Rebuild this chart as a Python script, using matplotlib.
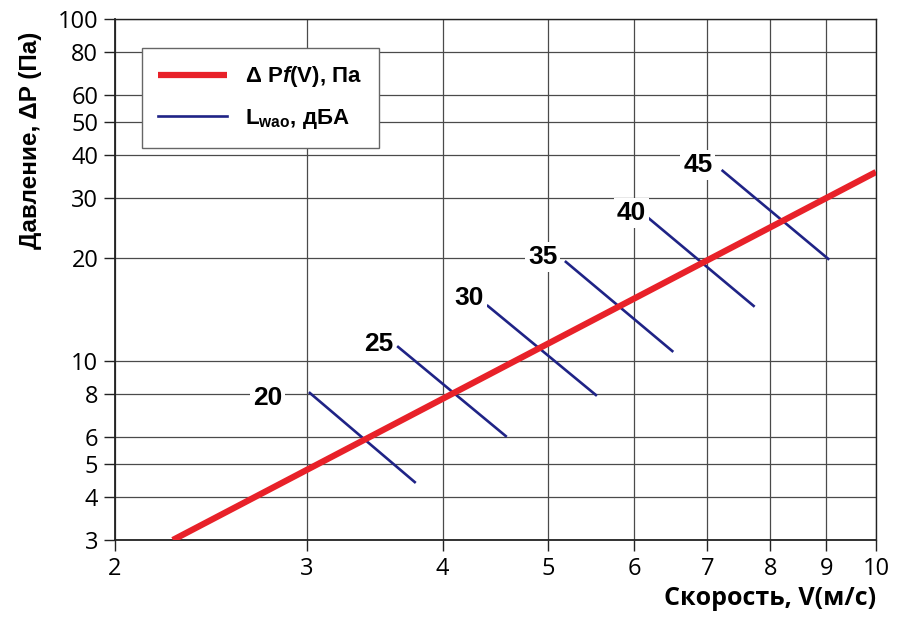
import numpy as np
import matplotlib
matplotlib.use("Agg")
import matplotlib.pyplot as plt
from matplotlib.ticker import FixedLocator, FixedFormatter, NullLocator

# pressure drop curve dP = f(V)
v_dp = [2.26, 10.0]
dp = [3.0, 35.7]

# noise level lines L_wao (start/end points)
noise_levels = [20, 25, 30, 35, 40, 45]
noise_v_start = [3.02, 3.64, 4.40, 5.19, 6.18, 7.23]
noise_p_start = [8.07, 11.0, 14.5, 19.5, 26.2, 36.0]
noise_v_end = [3.77, 4.57, 5.53, 6.50, 7.72, 9.04]
noise_p_end = [4.43, 6.04, 7.96, 10.7, 14.5, 19.9]
label_v = [2.76, 3.49, 4.23, 4.94, 5.96, 6.86]
label_p = [7.8, 11.2, 15.3, 20.2, 27.1, 37.5]

x_ticks = [2, 3, 4, 5, 6, 7, 8, 9, 10]
y_ticks = [3, 4, 5, 6, 8, 10, 20, 30, 40, 50, 60, 80, 100]

plt.rcParams["mathtext.fontset"] = "custom"
plt.rcParams["mathtext.rm"] = "Liberation Sans:bold"
plt.rcParams["mathtext.it"] = "Liberation Sans:italic:bold"

red = "#e82129"
blue = "#1f2386"
grid_c = "#4a4a4a"

fig = plt.figure(figsize=(9, 6.25), dpi=100)
ax = fig.add_axes([0.1278, 0.136, 0.8455, 0.8336])
ax.set_xscale("log")
ax.set_yscale("log")
ax.set_xlim(2, 10)
ax.set_ylim(3, 100)

ax.xaxis.set_major_locator(FixedLocator(x_ticks))
ax.xaxis.set_major_formatter(FixedFormatter([str(t) for t in x_ticks]))
ax.xaxis.set_minor_locator(NullLocator())
ax.yaxis.set_major_locator(FixedLocator(y_ticks))
ax.yaxis.set_major_formatter(FixedFormatter([str(t) for t in y_ticks]))
ax.yaxis.set_minor_locator(NullLocator())

ax.grid(True, color=grid_c, linewidth=0.9)
ax.set_axisbelow(True)
for s in ax.spines.values():
    s.set_color("#222222")
    s.set_linewidth(1.0)
ax.spines["left"].set_linewidth(1.3)
ax.spines["bottom"].set_linewidth(1.3)

ax.tick_params(axis="both", direction="out", length=8, width=1, color="#222222",
               labelsize=17, pad=4)
for lbl in ax.get_xticklabels() + ax.get_yticklabels():
    lbl.set_fontfamily("Open Sans")

ax.plot(v_dp, dp, color=red, linewidth=4.5, solid_capstyle="butt",
        label=r"$\Delta$ P$\mathit{f}$(V), Па", zorder=4)

for i in range(len(noise_levels)):
    ax.plot([noise_v_start[i], noise_v_end[i]], [noise_p_start[i], noise_p_end[i]],
            color=blue, linewidth=1.9, zorder=3,
            label=r"L$_{\mathregular{wao}}$, дБА" if i == 0 else None)
    ax.text(label_v[i], label_p[i], str(noise_levels[i]), ha="center", va="center",
            fontsize=19, fontweight="bold", family="Liberation Sans", zorder=5,
            bbox=dict(facecolor="white", edgecolor="none", pad=2))

leg = ax.legend(loc="upper left", bbox_to_anchor=(0.035, 0.945), borderaxespad=0,
                fancybox=False, framealpha=1, edgecolor="#666666",
                prop={"family": "Liberation Sans", "weight": "bold", "size": 16},
                handlelength=3.1, handletextpad=0.8, labelspacing=0.8,
                borderpad=0.75)
leg.get_frame().set_linewidth(1.0)
leg.set_zorder(6)

fig.text(0.034, 0.776, "Давление, ΔP (Па)", rotation=90, ha="center", va="center",
         fontsize=17.5, fontweight="bold", family="Liberation Sans")
fig.text(0.9733, 0.043, "Скорость, V(м/с)", ha="right", va="center",
         fontsize=18, fontweight="bold", family="Open Sans")

fig.savefig("out.png", dpi=100)
